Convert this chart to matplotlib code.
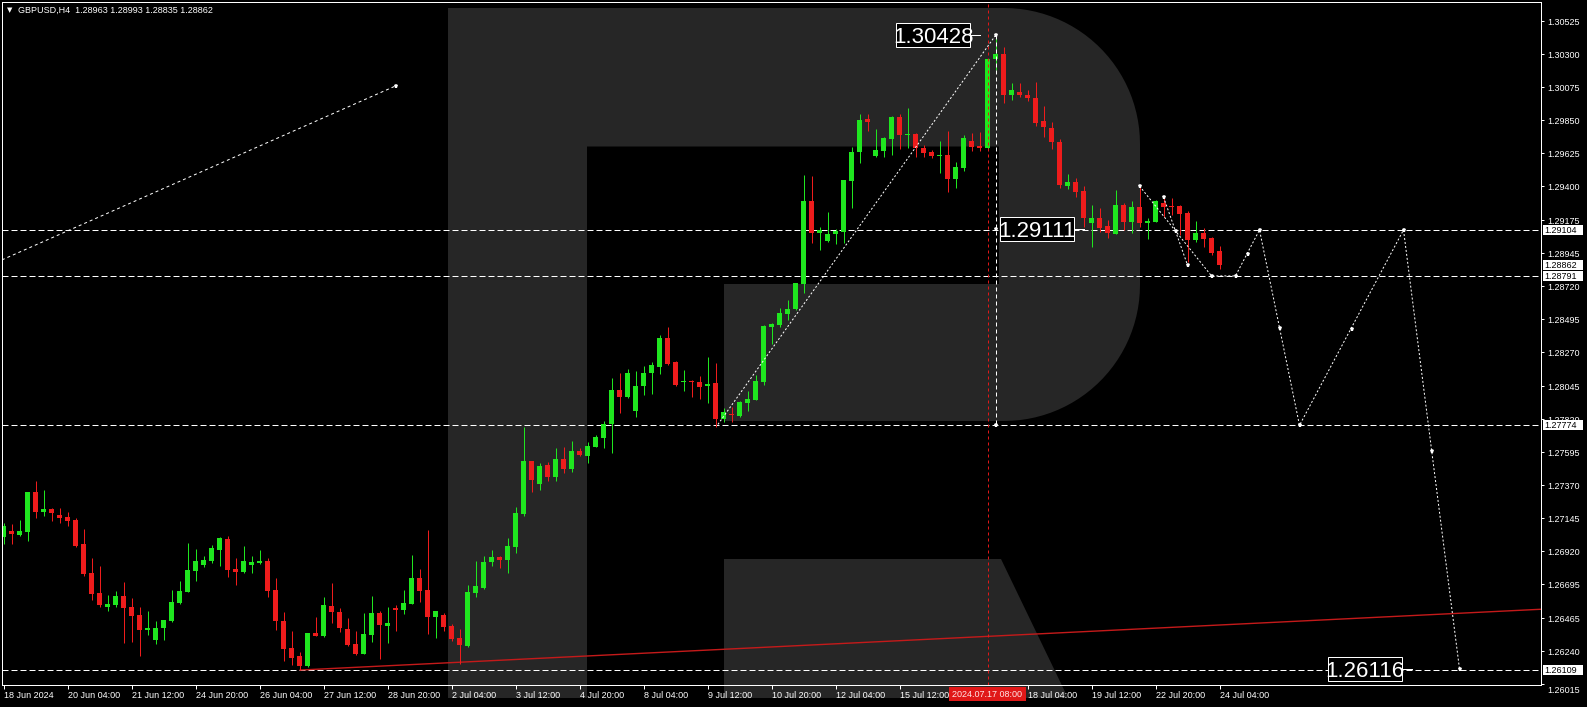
import numpy as np
import matplotlib
matplotlib.use("Agg")
import matplotlib.pyplot as plt
import matplotlib.transforms as mtransforms
from matplotlib.patches import Polygon, Rectangle

W, H, DPI = 1587, 707, 100
PX = 72.0 / DPI          # one pixel expressed in points

BG = "#000000"
LOGO = "#262626"
BULL = "#1fe61f"
BEAR = "#ee1c1c"
TREND = "#c41a1a"
CURSOR = "#e01818"
FONT = ["Liberation Sans", "DejaVu Sans"]
BIGFONT = ["Liberation Sans Narrow", "Liberation Sans", "DejaVu Sans"]

# ---------------------------------------------------------------- data ---
symbol = "GBPUSD,H4"
header_ohlc = ["1.28963", "1.28993", "1.28835", "1.28862"]
first_bar = -1   # bar index of the first candle (bar 0 = 19 Jun 2024 00:00)

opens = [
    1.27014,
    1.27054, 1.27027, 1.27048, 1.27320, 1.27184, 1.27204,
    1.27163, 1.27150, 1.27129, 1.26966, 1.26769, 1.26632,
    1.26537, 1.26551, 1.26612, 1.26537, 1.26483, 1.26381,
    1.26313, 1.26394, 1.26442, 1.26564, 1.26639, 1.26782,
    1.26823, 1.26850, 1.26925, 1.27000, 1.26796, 1.26775,
    1.26823, 1.26837, 1.26850, 1.26653, 1.26442, 1.26258,
    1.26204, 1.26136, 1.26360, 1.26340, 1.26544, 1.26503,
    1.26387, 1.26285, 1.26217, 1.26347, 1.26496, 1.26408,
    1.26530, 1.26517, 1.26558, 1.26735, 1.26653, 1.26469,
    1.26483, 1.26408, 1.26326, 1.26272, 1.26632, 1.26666,
    1.26844, 1.26878, 1.26857, 1.26946, 1.27170, 1.27531,
    1.27374, 1.27504, 1.27422, 1.27545, 1.27476, 1.27599,
    1.27565, 1.27626, 1.27688, 1.27783, 1.28014, 1.27967,
    1.27871, 1.28042, 1.28130, 1.28171, 1.28368, 1.28205,
    1.28069, 1.28076, 1.28069, 1.28042, 1.28062, 1.27817,
    1.27851, 1.27837, 1.27926, 1.27946, 1.28069, 1.28443,
    1.28457, 1.28532, 1.28566, 1.28736, 1.29301, 1.29083,
    1.29029, 1.29076, 1.29090, 1.29437, 1.29634, 1.29859,
    1.29607, 1.29641, 1.29723, 1.29873, 1.29750, 1.29757,
    1.29662, 1.29634, 1.29607, 1.29614, 1.29451, 1.29525,
    1.29709, 1.29675, 1.29662, 1.30267, 1.30301, 1.30022,
    1.30043, 1.30022, 1.30002, 1.29845, 1.29798, 1.29702,
    1.29403, 1.29430, 1.29369, 1.29151, 1.29185, 1.29131,
    1.29076, 1.29274, 1.29158, 1.29260, 1.29151, 1.29158,
    1.29287, 1.29267, 1.29267, 1.29219, 1.29035, 1.29083,
    1.29049, 1.28963,
]
highs = [
    1.27109,
    1.27102, 1.27129, 1.27320, 1.27395, 1.27334, 1.27211,
    1.27211, 1.27184, 1.27143, 1.27068, 1.26871, 1.26816,
    1.26619, 1.26646, 1.26707, 1.26598, 1.26537, 1.26510,
    1.26442, 1.26449, 1.26653, 1.26714, 1.26973, 1.26932,
    1.26884, 1.26959, 1.27014, 1.27020, 1.26871, 1.26952,
    1.26884, 1.26925, 1.26871, 1.26735, 1.26503, 1.26374,
    1.26231, 1.26360, 1.26469, 1.26605, 1.26701, 1.26530,
    1.26462, 1.26374, 1.26496, 1.26612, 1.26510, 1.26537,
    1.26551, 1.26653, 1.26891, 1.26796, 1.27061, 1.26510,
    1.26496, 1.26421, 1.26387, 1.26687, 1.26850, 1.26884,
    1.26925, 1.26884, 1.27007, 1.27218, 1.27762, 1.27531,
    1.27517, 1.27524, 1.27619, 1.27626, 1.27667, 1.27619,
    1.27660, 1.27708, 1.27803, 1.28096, 1.28130, 1.28157,
    1.28144, 1.28178, 1.28205, 1.28389, 1.28443, 1.28212,
    1.28150, 1.28082, 1.28110, 1.28239, 1.28198, 1.27892,
    1.27899, 1.27939, 1.28008, 1.28116, 1.28457, 1.28470,
    1.28572, 1.28627, 1.28743, 1.29478, 1.29471, 1.29124,
    1.29226, 1.29110, 1.29444, 1.29668, 1.29893, 1.29893,
    1.29791, 1.29736, 1.29879, 1.29893, 1.29934, 1.29764,
    1.29682, 1.29648, 1.29709, 1.29777, 1.29566, 1.29750,
    1.29764, 1.29771, 1.30267, 1.30428, 1.30349, 1.30104,
    1.30104, 1.30056, 1.30111, 1.29947, 1.29839, 1.29723,
    1.29485, 1.29457, 1.29403, 1.29274, 1.29253, 1.29172,
    1.29376, 1.29287, 1.29301, 1.29403, 1.29185, 1.29308,
    1.29328, 1.29321, 1.29274, 1.29233, 1.29165, 1.29117,
    1.29056, 1.28993,
]
lows = [
    1.26966,
    1.26966, 1.27020, 1.26986, 1.27143, 1.27157, 1.27123,
    1.27109, 1.27088, 1.26946, 1.26748, 1.26585, 1.26537,
    1.26510, 1.26537, 1.26292, 1.26299, 1.26204, 1.26347,
    1.26285, 1.26313, 1.26435, 1.26558, 1.26639, 1.26714,
    1.26809, 1.26837, 1.26816, 1.26741, 1.26687, 1.26769,
    1.26769, 1.26830, 1.26605, 1.26381, 1.26170, 1.26142,
    1.26108, 1.26129, 1.26340, 1.26333, 1.26428, 1.26367,
    1.26272, 1.26210, 1.26217, 1.26299, 1.26183, 1.26292,
    1.26374, 1.26490, 1.26558, 1.26571, 1.26353, 1.26326,
    1.26374, 1.26306, 1.26149, 1.26265, 1.26605, 1.26660,
    1.26816, 1.26803, 1.26769, 1.26905, 1.27157, 1.27320,
    1.27334, 1.27395, 1.27395, 1.27449, 1.27456, 1.27565,
    1.27517, 1.27626, 1.27619, 1.27585, 1.27858, 1.27960,
    1.27830, 1.27980, 1.27987, 1.28123, 1.28184, 1.28042,
    1.28008, 1.27967, 1.27953, 1.27926, 1.27762, 1.27796,
    1.27796, 1.27830, 1.27871, 1.27946, 1.28048, 1.28327,
    1.28443, 1.28491, 1.28559, 1.28675, 1.29015, 1.28967,
    1.29022, 1.29008, 1.29015, 1.29253, 1.29559, 1.29777,
    1.29600, 1.29600, 1.29614, 1.29655, 1.29662, 1.29600,
    1.29600, 1.29593, 1.29491, 1.29362, 1.29389, 1.29505,
    1.29641, 1.29641, 1.29648, 1.30193, 1.29968, 1.29988,
    1.30009, 1.29982, 1.29811, 1.29736, 1.29655, 1.29389,
    1.29383, 1.29328, 1.29124, 1.28988, 1.29090, 1.29049,
    1.29076, 1.29103, 1.29083, 1.29124, 1.29042, 1.29158,
    1.29192, 1.29206, 1.29069, 1.28886, 1.29022, 1.28988,
    1.28933, 1.28835,
]
closes = [
    1.27088,
    1.27034, 1.27054, 1.27320, 1.27184, 1.27204, 1.27177,
    1.27143, 1.27123, 1.26952, 1.26762, 1.26626, 1.26551,
    1.26558, 1.26612, 1.26530, 1.26476, 1.26381, 1.26394,
    1.26394, 1.26449, 1.26571, 1.26646, 1.26789, 1.26850,
    1.26857, 1.26939, 1.27007, 1.26789, 1.26775, 1.26850,
    1.26844, 1.26850, 1.26646, 1.26442, 1.26251, 1.26190,
    1.26136, 1.26360, 1.26340, 1.26551, 1.26503, 1.26394,
    1.26278, 1.26217, 1.26353, 1.26496, 1.26415, 1.26428,
    1.26517, 1.26564, 1.26735, 1.26646, 1.26469, 1.26510,
    1.26401, 1.26319, 1.26278, 1.26639, 1.26680, 1.26844,
    1.26878, 1.26857, 1.26952, 1.27177, 1.27531, 1.27402,
    1.27497, 1.27422, 1.27545, 1.27476, 1.27599, 1.27572,
    1.27633, 1.27694, 1.27783, 1.28014, 1.27967, 1.28130,
    1.28042, 1.28130, 1.28184, 1.28368, 1.28191, 1.28048,
    1.28076, 1.28069, 1.28035, 1.28055, 1.27817, 1.27865,
    1.27844, 1.27933, 1.27953, 1.28076, 1.28450, 1.28464,
    1.28538, 1.28566, 1.28743, 1.29301, 1.29083, 1.29103,
    1.29076, 1.29097, 1.29444, 1.29634, 1.29852, 1.29839,
    1.29648, 1.29730, 1.29873, 1.29750, 1.29757, 1.29662,
    1.29628, 1.29607, 1.29614, 1.29451, 1.29532, 1.29730,
    1.29668, 1.29662, 1.30267, 1.30301, 1.30022, 1.30056,
    1.30022, 1.30002, 1.29832, 1.29805, 1.29702, 1.29410,
    1.29430, 1.29362, 1.29185, 1.29185, 1.29117, 1.29083,
    1.29274, 1.29158, 1.29260, 1.29151, 1.29165, 1.29301,
    1.29260, 1.29260, 1.29212, 1.29035, 1.29083, 1.29042,
    1.28947, 1.28862,
]

price_ticks = [1.30525, 1.30300, 1.30075, 1.29850, 1.29625, 1.29400, 1.29175,
               1.28945, 1.28720, 1.28495, 1.28270, 1.28045, 1.27820, 1.27595,
               1.27370, 1.27145, 1.26920, 1.26695, 1.26465, 1.26240, 1.26015]
date_ticks = [-1, 7, 15, 23, 31, 39, 47, 55, 63, 71, 79, 87, 95, 103, 111,
              127, 135, 143, 151]
date_texts = ["18 Jun 2024", "20 Jun 04:00", "21 Jun 12:00", "24 Jun 20:00",
              "26 Jun 04:00", "27 Jun 12:00", "28 Jun 20:00", "2 Jul 04:00",
              "3 Jul 12:00", "4 Jul 20:00", "8 Jul 04:00", "9 Jul 12:00",
              "10 Jul 20:00", "12 Jul 04:00", "15 Jul 12:00", "18 Jul 04:00",
              "19 Jul 12:00", "22 Jul 20:00", "24 Jul 04:00"]
cursor_bar = 122
cursor_text = "2024.07.17 08:00"

level_prices = [1.29104, 1.28791, 1.27774, 1.26109]
axis_marks = [1.29104, 1.28862, 1.28791, 1.27774, 1.26109]

trend_x = [36, 191.2]
trend_y = [1.26108, 1.26522]

upper_x = [-1.2, 48]
upper_y = [1.28900, 1.30084]

rally_x = [88.3, 123]
rally_y = [1.27780, 1.30428]

range_bar = 123
range_y = [1.30428, 1.29111, 1.27774]

swing_x = [144, 147]
swing_y = [1.29328, 1.28865]

path_x = [141, 150, 153, 156, 161, 174, 181]
path_y = [1.29403, 1.28791, 1.28791, 1.29104, 1.27774, 1.29104, 1.26116]
path_mid_x = [145.5, 154.5, 158.5, 167.5, 177.5]
path_mid_y = [1.29097, 1.28940, 1.28434, 1.28427, 1.27599]

# ---------------------------------------------------------------- figure --
fig = plt.figure(figsize=(W / DPI, H / DPI), dpi=DPI, facecolor=BG)
ax = fig.add_axes([2 / W, 1 - 685 / H, 1539 / W, 683 / H])
ax.set_facecolor(BG)
X0, X1 = -1.1875, 191.1875
Y0, Y1 = 1.260064, 1.306555
ax.set_xlim(X0, X1)
ax.set_ylim(Y0, Y1)
upp = (Y1 - Y0) / 683.0          # price per pixel
bpp = (X1 - X0) / 1539.0         # bars per pixel

for s in ax.spines.values():
    s.set_color("white")
    s.set_linewidth(PX)

# background watermark, laid out in figure pixels (y grows downward)
pix = mtransforms.Affine2D().scale(1.0 / W, -1.0 / H).translate(0, 1) + fig.transFigure


def corner(cx, cy, r, a0, a1, n=28):
    t = np.radians(np.linspace(a0, a1, n))
    return list(zip(cx + r * np.cos(t), cy - r * np.sin(t)))


R = 136
bowl = ([(448, 8), (1004, 8)] + corner(1004, 144, R, 90, 0)
        + corner(1004, 285, R, 0, -90)
        + [(724, 421), (724, 284), (999, 284), (999, 146.5), (587, 146.5),
           (587, 698), (448, 698)])
leg = [(724, 559), (1001, 559), (1068, 698), (724, 698)]
for verts in (bowl, leg):
    ax.add_patch(Polygon(verts, closed=True, transform=pix, facecolor=LOGO,
                         edgecolor="none", clip_on=False, zorder=0.2))

# horizontal levels
for lv in level_prices:
    ax.axhline(lv, color="white", lw=PX, ls=(0, (6, 3)), zorder=1)

# support trend line
ax.plot(trend_x, trend_y, color=TREND, lw=1.4 * PX, zorder=1.2,
        solid_capstyle="butt")

# candles
bars = np.arange(len(opens)) + first_bar
o, hi, lo, c = (np.asarray(a, dtype=float) for a in (opens, highs, lows, closes))
colors = np.where(c >= o, BULL, BEAR)
ax.vlines(bars, lo, hi, colors=colors, linewidth=PX, zorder=2)
body_lo = np.minimum(o, c)
body_h = np.maximum(np.abs(c - o), upp)
ax.bar(bars, body_h, bottom=body_lo, width=5 * bpp, color=colors,
       linewidth=0, zorder=2.1)

# cursor line
ax.axvline(cursor_bar, color=CURSOR, lw=PX, ls=(0, (3, 3)), zorder=2.6)

# drawn objects
white_dot = dict(color="white", lw=PX, zorder=3)
ax.plot(upper_x, upper_y, ls=(0, (3, 3)), **white_dot)
ax.plot(rally_x, rally_y, ls=(0, (2, 2)), **white_dot)
ax.plot([range_bar, range_bar], [range_y[0], range_y[-1]], ls=(0, (4, 3)), **white_dot)
ax.plot(swing_x, swing_y, ls=(0, (2, 2)), **white_dot)
ax.plot(path_x, path_y, ls=(0, (2, 2)), **white_dot)

mk = dict(ls="none", marker="p", ms=3.6, color="white", mew=0, zorder=3.5)
ax.plot([upper_x[-1]], [upper_y[-1]], **mk)
ax.plot([range_bar] * len(range_y), range_y, **mk)
ax.plot(swing_x, swing_y, **mk)
ax.plot(path_x, path_y, **mk)
ax.plot(path_mid_x, path_mid_y, **mk)


# boxed price labels on the chart
def price_label(text, price, left_bar, link_px=10):
    w_px, h_px = 74, 24
    ax.add_patch(Rectangle((left_bar, price - h_px / 2 * upp), w_px * bpp, h_px * upp,
                           facecolor="black", edgecolor="white", lw=PX, zorder=4))
    ax.text(left_bar + w_px / 2 * bpp, price - 8 * upp, text, ha="center",
            va="baseline", color="white", fontsize=16, family=BIGFONT, zorder=4.1)
    right = left_bar + w_px * bpp
    ax.plot([right, right + link_px * bpp], [price, price], color="white",
            lw=PX, zorder=4)


price_label("1.30428", 1.30428, 110.6)
price_label("1.29111", 1.29111, 123.5)
price_label("1.26116", 1.26116, 164.6)

# right price scale
ax.set_yticks(price_ticks)
ax.yaxis.tick_right()
ax.tick_params(axis="y", which="both", direction="out", length=3 * PX, width=PX,
               colors="white", labelright=False, labelleft=False)
scale_x = X1 + 6 * bpp
for p in price_ticks:
    shift = -7 if p == price_ticks[-1] else -1.5
    ax.text(scale_x, p + shift * upp, f"{p:.5f}", ha="left", va="center",
            color="white", fontsize=6.5, family=FONT, zorder=5)

for p in axis_marks:
    ax.add_patch(Rectangle((X1 + 1.5 * bpp, p - 5 * upp), 40 * bpp, 10 * upp,
                           facecolor="white", edgecolor="none", clip_on=False,
                           zorder=6))
    ax.text(X1 + 3.5 * bpp, p - 0.5 * upp, f"{p:.5f}", ha="left", va="center",
            color="black", fontsize=6.5, family=FONT, zorder=6.1)

# time scale
ax.set_xticks(date_ticks)
ax.tick_params(axis="x", which="both", direction="out", length=4 * PX, width=PX,
               colors="white", labelbottom=False)
for k, t in zip(date_ticks, date_texts):
    ax.text(k + 1 * bpp, Y0 - 10 * upp, t, ha="left", va="center",
            color="white", fontsize=6.5, family=FONT, zorder=5)

ax.add_patch(Rectangle((cursor_bar - 38.5 * bpp, Y0 - 16 * upp), 77 * bpp, 14 * upp,
                       facecolor=CURSOR, edgecolor="none", clip_on=False, zorder=6))
ax.text(cursor_bar - 0.5 * bpp, Y0 - 9.5 * upp, cursor_text, ha="center",
        va="center", color="#ffe6e6", fontsize=6.5, family=FONT, zorder=6.1)

# header
fig.text(7 / W, 1 - 10.5 / H, "\u25bc", ha="left", va="center", color="white",
         fontsize=5, family=["DejaVu Sans"])
fig.text(18 / W, 1 - 10.5 / H, f"{symbol}  " + " ".join(header_ohlc), ha="left",
         va="center", color="white", fontsize=6.5, family=FONT)

fig.savefig("out.png", dpi=DPI, facecolor=BG)
